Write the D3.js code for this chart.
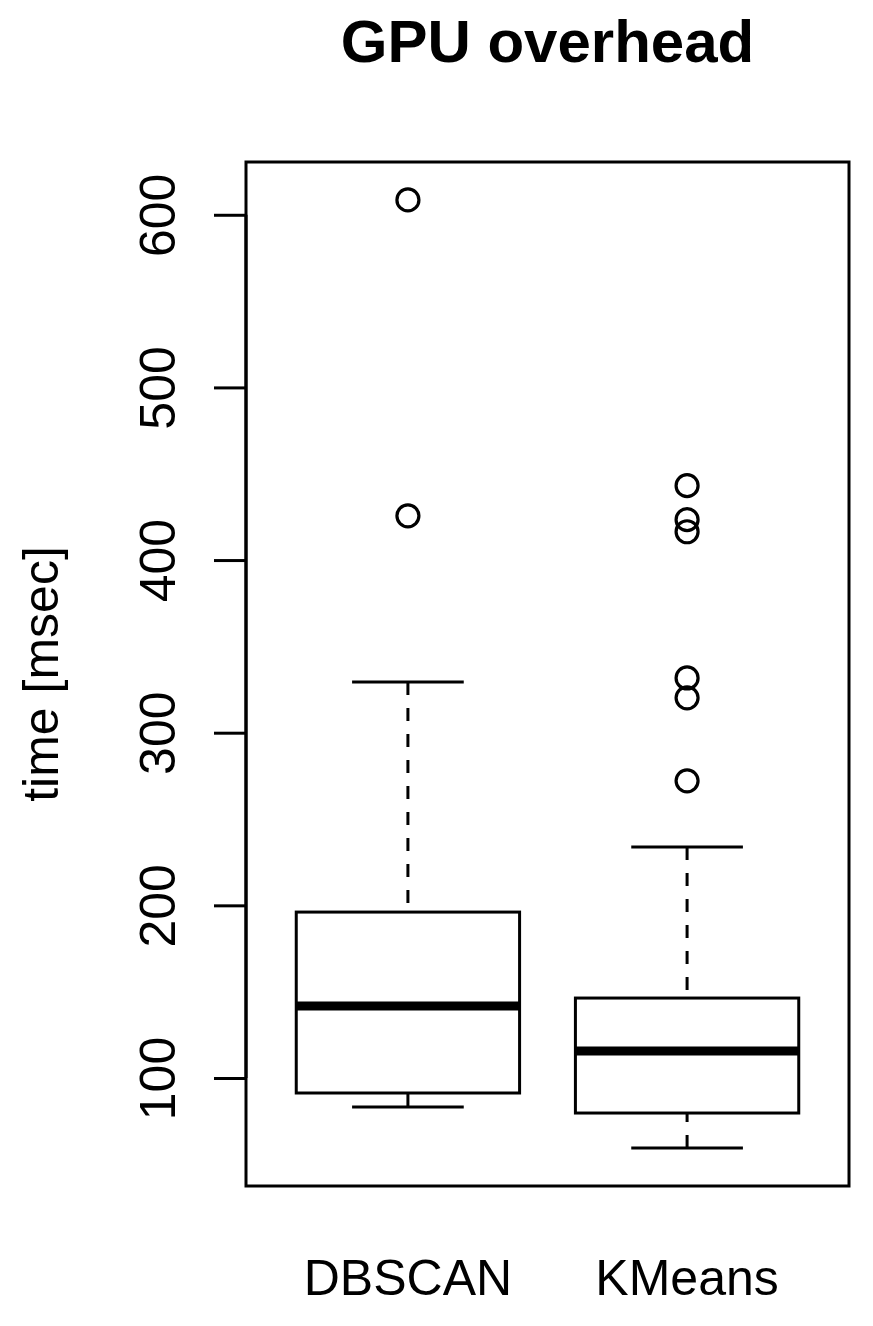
<!DOCTYPE html>
<html><head><meta charset="utf-8">
<script src="https://cdn.jsdelivr.net/npm/d3@7"></script>
<style>body{margin:0;background:#fff}svg{display:block}text{font-family:"Liberation Sans",Arial,sans-serif;fill:#000}</style>
</head><body>
<script>
const categories = ["DBSCAN", "KMeans"];
const lowerWhisker = [83.2, 59.4];
const q1 = [91.3, 79.7];
const medians = [141.7, 115.6];
const q3 = [196.1, 146.3];
const upperWhisker = [329.4, 233.8];
const outliers = [[608.6, 425.6], [443.1, 423.4, 416.4, 331.7, 320.2, 272.1]];
const yTicks = [100, 200, 300, 400, 500, 600];

(function () {
const W = 873, H = 1326;
const pL = 246, pR = 849, pT = 162, pB = 1186;
const svg = d3.select("body").append("svg").attr("width", W).attr("height", H);

const allVals = lowerWhisker.concat(upperWhisker, outliers.flat());
const lo = d3.min(allVals), hi = d3.max(allVals), pad = (hi - lo) * 0.04;
const y = d3.scaleLinear().domain([lo - pad, hi + pad]).range([pB, pT]);
const x = d3.scaleLinear().domain([0.42, categories.length + 0.58]).range([pL, pR]);

svg.append("rect").attr("x", pL).attr("y", pT).attr("width", pR - pL).attr("height", pB - pT)
  .attr("fill", "none").attr("stroke", "#000").attr("stroke-width", 3);

const yAxis = d3.axisLeft(y).tickValues(yTicks).tickSize(32).tickFormat(d3.format("d"));
const gy = svg.append("g").attr("transform", `translate(${pL},0)`).call(yAxis);
gy.select(".domain").remove();
gy.append("path").attr("d", `M0,${y(yTicks[0])}V${y(yTicks[yTicks.length - 1])}`).attr("stroke", "#000").attr("stroke-width", 3);
gy.selectAll(".tick line").attr("stroke", "#000").attr("stroke-width", 3);
gy.selectAll(".tick text").attr("x", null).attr("dy", null)
  .attr("transform", "translate(-71,0) rotate(-90)").attr("text-anchor", "middle")
  .style("font-size", "50px").style("font-family", "'Liberation Sans', Arial, sans-serif").attr("fill", "#000");

categories.forEach((c, i) => {
  const cx = x(i + 1), hw = 0.4 * (x(1) - x(0)), sw = 0.2 * (x(1) - x(0));
  const g = svg.append("g");
  // whiskers drawn from whisker end toward the box (as R does)
  g.append("line").attr("x1", cx).attr("x2", cx).attr("y1", y(upperWhisker[i])).attr("y2", y(q3[i]))
    .attr("stroke", "#000").attr("stroke-width", 3).attr("stroke-dasharray", "13,13");
  g.append("line").attr("x1", cx).attr("x2", cx).attr("y1", y(lowerWhisker[i])).attr("y2", y(q1[i]))
    .attr("stroke", "#000").attr("stroke-width", 3).attr("stroke-dasharray", "13,13");
  [upperWhisker[i], lowerWhisker[i]].forEach(v => {
    g.append("line").attr("x1", cx - sw).attr("x2", cx + sw).attr("y1", y(v)).attr("y2", y(v))
      .attr("stroke", "#000").attr("stroke-width", 3);
  });
  g.append("rect").attr("x", cx - hw).attr("y", y(q3[i])).attr("width", 2 * hw).attr("height", y(q1[i]) - y(q3[i]))
    .attr("fill", "#fff").attr("stroke", "#000").attr("stroke-width", 3);
  g.append("line").attr("x1", cx - hw).attr("x2", cx + hw).attr("y1", y(medians[i])).attr("y2", y(medians[i]))
    .attr("stroke", "#000").attr("stroke-width", 9);
  g.selectAll("circle").data(outliers[i]).join("circle")
    .attr("cx", cx).attr("cy", d => y(d)).attr("r", 11)
    .attr("fill", "none").attr("stroke", "#000").attr("stroke-width", 3.2);
  svg.append("text").attr("x", cx).attr("y", 1295).attr("text-anchor", "middle")
    .style("font-size", "50px").text(c);
});

svg.append("text").attr("x", (pL + pR) / 2).attr("y", 62).attr("text-anchor", "middle")
  .style("font-size", "60px").style("font-weight", "bold").text("GPU overhead");

svg.append("text").attr("transform", `translate(58,${(pT + pB) / 2}) rotate(-90)`).attr("text-anchor", "middle")
  .style("font-size", "50px").text("time [msec]");
})();
</script>
</body></html>
